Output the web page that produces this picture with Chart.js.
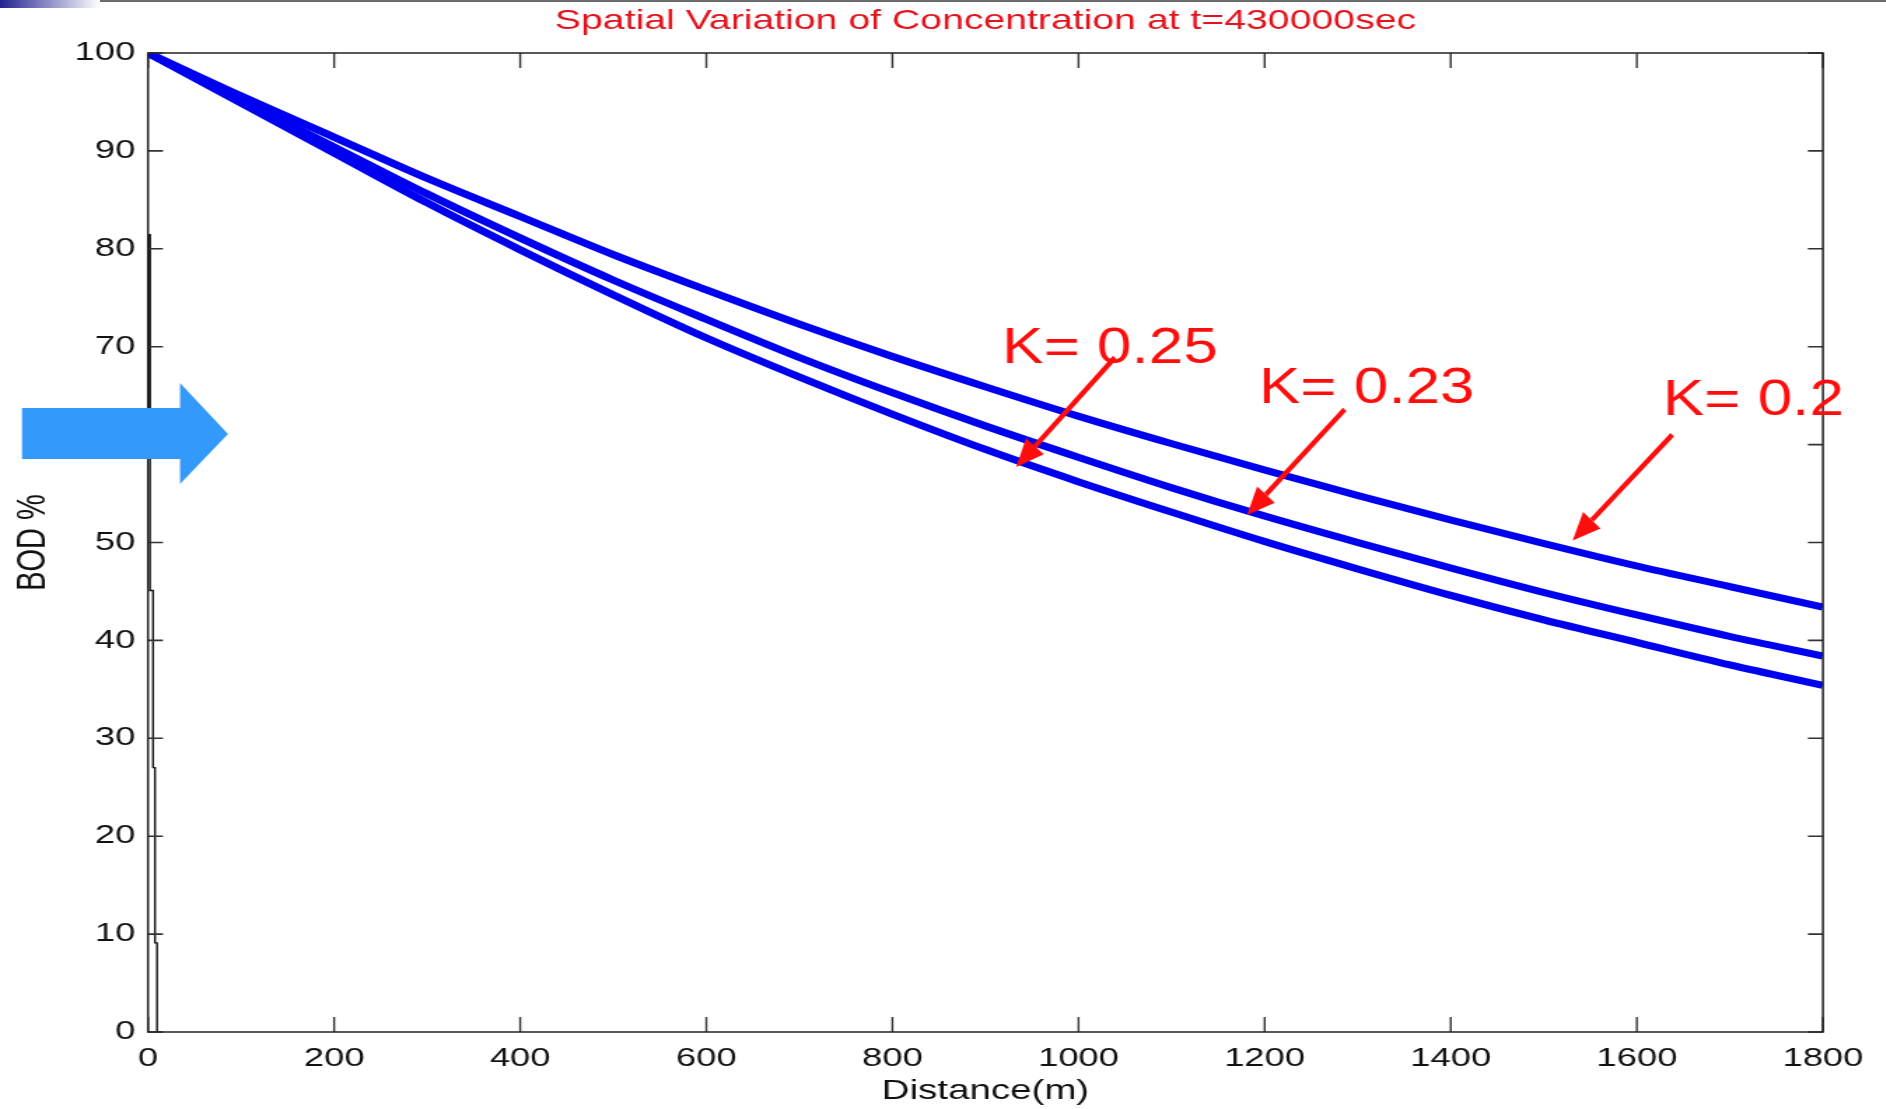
<!DOCTYPE html>
<html>
<head>
<meta charset="utf-8">
<title>Spatial Variation of Concentration</title>
<script src="https://cdn.jsdelivr.net/npm/chart.js@4.4.1/dist/chart.umd.min.js"></script>
<style>
  html, body { margin: 0; padding: 0; background: #fff; overflow: hidden; }
  #topline { position: absolute; left: 0; top: 0; width: 1886px; height: 2px; background: #6b6b6b; z-index: 2; }
  #corner { position: absolute; left: 0; top: 0; width: 100px; height: 8px; background: linear-gradient(to right, #23238f, #ffffff); z-index: 3; }
  #wrap { position: absolute; left: 0; top: 0; height: 1109px; transform-origin: 0 0; }
</style>
</head>
<body>
<div id="topline"></div>
<div id="corner"></div>
<div id="wrap"><canvas id="bodChart"></canvas></div>
<script>
// the source figure is a matlab plot stretched sideways, so the chart is drawn narrow and scaled in x
const SX = 1.4

// distance along the river (m)
const distance = [0, 100, 200, 300, 400, 500, 600, 700, 800, 900, 1000, 1100, 1200, 1300, 1400, 1500, 1600, 1700, 1800]
// BOD %
const bodK020 = [100, 95.6, 91.4, 87.2, 83.3, 79.4, 75.8, 72.3, 69.0, 65.9, 62.9, 60.1, 57.4, 54.8, 52.3, 49.9, 47.6, 45.5, 43.4]
const bodK023 = [100, 95.2, 90.4, 85.6, 81.1, 76.8, 72.8, 68.9, 65.3, 61.9, 58.7, 55.6, 52.7, 50.0, 47.4, 44.9, 42.6, 40.4, 38.4]
const bodK025 = [100, 94.9, 89.8, 84.7, 79.9, 75.3, 70.9, 66.9, 63.1, 59.5, 56.2, 53.1, 50.1, 47.3, 44.6, 42.1, 39.8, 37.5, 35.4]
// the thin black trace hugging the y axis
const edgeX = [1, 1, 2.1, 2.1, 5.4, 5.4, 7.5, 7.5, 9.7, 9.7]
const edgeY = [81.5, 62, 62, 45.1, 45.1, 27, 27, 9.1, 9.1, 0]

const xMax = 1800
const xStep = 200
const yMax = 100
const yStep = 10

const kLabels = ['K= 0.25', 'K= 0.23', 'K= 0.2']
// label anchor and arrow (from -> to) in data units
const kNotes = [
  { text: kLabels[0], at: [918, 68.3], from: [1039, 68.9], to: [933, 57.7] },
  { text: kLabels[1], at: [1194, 64.3], from: [1286, 63.6], to: [1181, 52.8] },
  { text: kLabels[2], at: [1628, 63.0], from: [1638, 61.0], to: [1531, 50.2] }
]

const FONT = '"Liberation Sans", Arial, Helvetica, sans-serif'
const BLUE = '#0000f0'

function pts(xs, ys){
  return xs.map((x, i) => ({ x: x, y: ys[i] }))
}

document.getElementById('wrap').style.width = (1886 / SX) + 'px'
document.getElementById('wrap').style.transform = `scaleX(${SX})`

// box, inward ticks, red notes and the blue arrow
const framePlugin = {
  id: 'frame',
  afterDatasetsDraw(chart){
    const ctx = chart.ctx
    const a = chart.chartArea
    const x = chart.scales.x
    const y = chart.scales.y
    ctx.save()
    ctx.strokeStyle = '#333'
    ctx.lineWidth = 1.4
    x.ticks.forEach(t => {
      const px = x.getPixelForValue(t.value)
      ctx.beginPath()
      ctx.moveTo(px, a.bottom); ctx.lineTo(px, a.bottom - 15)
      ctx.moveTo(px, a.top); ctx.lineTo(px, a.top + 15)
      ctx.stroke()
    })
    ctx.lineWidth = 1.6
    y.ticks.forEach(t => {
      const py = y.getPixelForValue(t.value)
      ctx.beginPath()
      ctx.moveTo(a.left, py); ctx.lineTo(a.left + 15 / SX, py)
      ctx.moveTo(a.right, py); ctx.lineTo(a.right - 15 / SX, py)
      ctx.stroke()
    })
    ctx.strokeStyle = '#222'
    ctx.lineWidth = 1.5
    ctx.strokeRect(a.left, a.top, a.right - a.left, a.bottom - a.top)
    ctx.restore()

    // overlays were added on the slide, unstretched: draw them in page pixels
    ctx.save()
    ctx.scale(1 / SX, 1)
    ctx.fillStyle = '#ff0d0d'
    ctx.strokeStyle = '#ff0d0d'
    kNotes.forEach(n => {
      const x0 = x.getPixelForValue(n.from[0]) * SX, y0 = y.getPixelForValue(n.from[1])
      const x1 = x.getPixelForValue(n.to[0]) * SX, y1 = y.getPixelForValue(n.to[1])
      const ang = Math.atan2(y1 - y0, x1 - x0)
      const hl = 28, hw = 12
      const bx = x1 - hl * Math.cos(ang), by = y1 - hl * Math.sin(ang)
      ctx.lineWidth = 5
      ctx.beginPath()
      ctx.moveTo(x0, y0); ctx.lineTo(bx, by)
      ctx.stroke()
      ctx.beginPath()
      ctx.moveTo(x1, y1)
      ctx.lineTo(bx + hw * Math.sin(ang), by - hw * Math.cos(ang))
      ctx.lineTo(bx - hw * Math.sin(ang), by + hw * Math.cos(ang))
      ctx.closePath()
      ctx.fill()

      ctx.save()
      ctx.translate(x.getPixelForValue(n.at[0]) * SX, y.getPixelForValue(n.at[1]))
      ctx.scale(1.24, 1)
      ctx.font = `50px ${FONT}`
      ctx.textBaseline = 'alphabetic'
      ctx.textAlign = 'left'
      ctx.fillText(n.text, 0, 0)
      ctx.restore()
    })

    // big blue arrow on the left
    ctx.fillStyle = '#3399fa'
    ctx.beginPath()
    ctx.moveTo(22, 408); ctx.lineTo(180, 408); ctx.lineTo(180, 383)
    ctx.lineTo(228, 434); ctx.lineTo(180, 484); ctx.lineTo(180, 459)
    ctx.lineTo(22, 459)
    ctx.closePath()
    ctx.fill()
    ctx.restore()
  }
}

function blueLine(label, values){
  return {
    label: label,
    data: pts(distance, values),
    borderColor: BLUE,
    borderWidth: 7,
    pointRadius: 0,
    cubicInterpolationMode: 'monotone',
    clip: 0
  }
}

function drawChart(){
  const plotLeft = 148 / SX
  new Chart(document.getElementById('bodChart').getContext('2d'), {
    type: 'line',
    data: {
      datasets: [
        blueLine(kLabels[2], bodK020),
        blueLine(kLabels[1], bodK023),
        blueLine(kLabels[0], bodK025),
        {
          label: 'edge',
          data: pts(edgeX, edgeY),
          borderColor: '#111',
          borderWidth: 1.4,
          pointRadius: 0,
          segment: { borderWidth: c => c.p0DataIndex === 0 ? 3 : 1.4 },
          clip: 0
        }
      ]
    },
    options: {
      responsive: true,
      maintainAspectRatio: false,
      animation: false,
      layout: { padding: { left: 0, right: 45, top: 0, bottom: 0 } },
      plugins: { legend: { display: false }, tooltip: { enabled: false } },
      scales: {
        x: {
          type: 'linear', position: 'bottom', min: 0, max: xMax,
          ticks: { stepSize: xStep, color: '#111', font: { family: FONT, size: 26 }, padding: 11, maxRotation: 0, callback: v => String(v) },
          grid: { display: false, drawTicks: false },
          border: { display: false },
          title: { display: true, text: 'Distance(m)', color: '#111', font: { family: FONT, size: 27.5 }, padding: { top: 0, bottom: 1 } },
          afterFit: s => { s.height = 77 }
        },
        x2: {
          type: 'linear', position: 'top', min: 0, max: xMax,
          ticks: { display: false },
          grid: { display: false, drawTicks: false },
          border: { display: false },
          title: { display: true, text: 'Spatial Variation of Concentration at t=430000sec', color: '#e3131d', font: { family: FONT, size: 28 }, padding: { top: 4, bottom: 0 } },
          afterFit: s => { s.height = 53 }
        },
        y: {
          min: 0, max: yMax,
          ticks: { stepSize: yStep, color: '#111', font: { family: FONT, size: 26 }, padding: 9, callback: v => String(v) },
          grid: { display: false, drawTicks: false },
          border: { display: false },
          title: { display: true, text: 'BOD %', color: '#111', font: { family: FONT, size: 29 }, padding: { top: 7, bottom: 0 } },
          afterFit: s => { s.width = plotLeft }
        }
      }
    },
    plugins: [framePlugin]
  })
}

document.addEventListener('DOMContentLoaded', () => {
  drawChart()
})
</script>
</body>
</html>
